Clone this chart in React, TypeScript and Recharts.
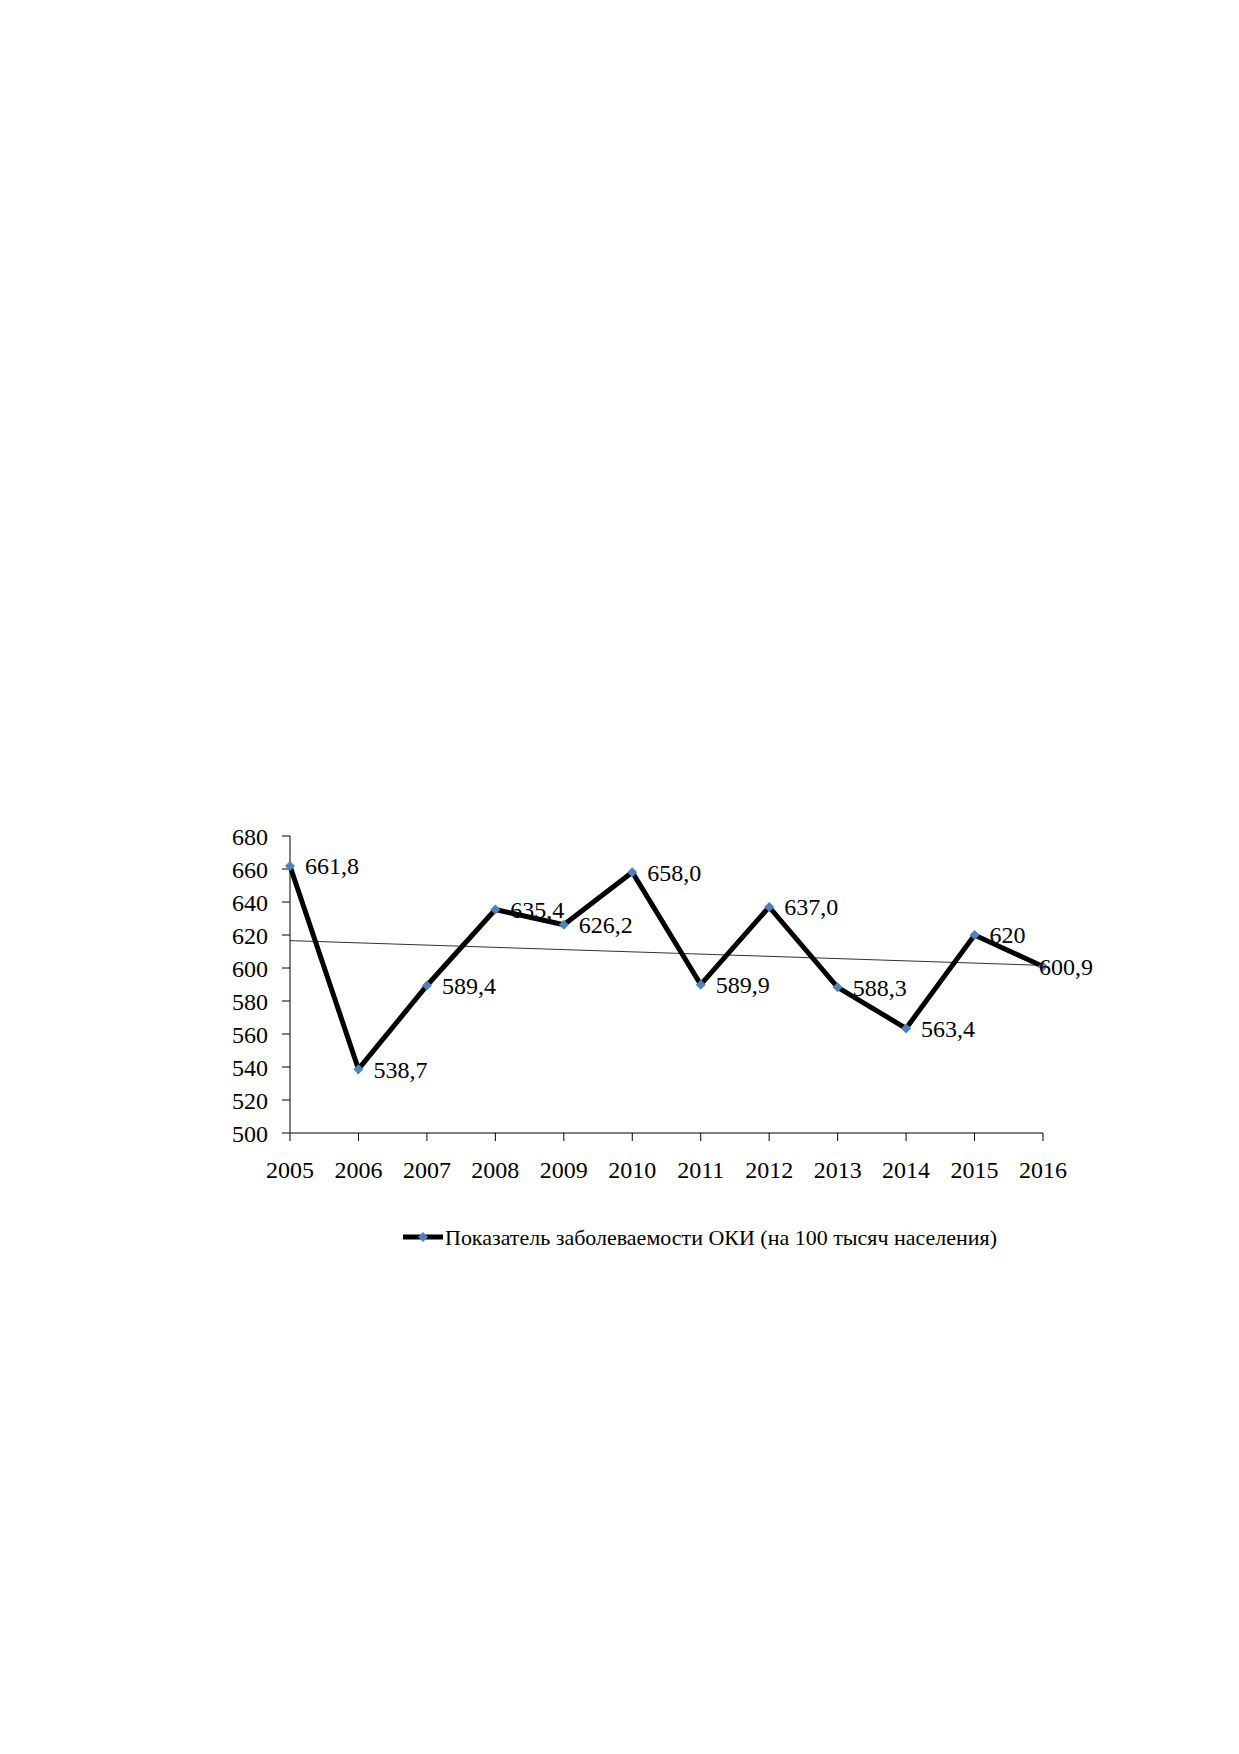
import React from 'react';
import {
  LineChart,
  Line,
  XAxis,
  YAxis,
  ReferenceLine,
  LabelList,
  Legend,
} from 'recharts';

const years = ['2005', '2006', '2007', '2008', '2009', '2010', '2011', '2012', '2013', '2014', '2015', '2016'];
const values = [661.8, 538.7, 589.4, 635.4, 626.2, 658.0, 589.9, 637.0, 588.3, 563.4, 620, 600.9];
const valueLabels = ['661,8', '538,7', '589,4', '635,4', '626,2', '658,0', '589,9', '637,0', '588,3', '563,4', '620', '600,9'];
const yTicks = [500, 520, 540, 560, 580, 600, 620, 640, 660, 680];
// linear trend at first and last year
const trendEnds = [616.6, 601.6];
const seriesName = 'Показатель заболеваемости ОКИ (на 100 тысяч населения)';

const data = years.map((year, i) => ({ year, value: values[i] }));

const FONT = '"Liberation Serif", "Times New Roman", serif';
const MARKER = '#4F81BD';

const Diamond = (props: any) => {
  const { cx, cy, index } = props;
  if (cx == null || cy == null) return null;
  const s = 5;
  return (
    <path
      key={`dot-${index}`}
      d={`M${cx},${cy - s}L${cx + s},${cy}L${cx},${cy + s}L${cx - s},${cy}Z`}
      fill={MARKER}
      stroke="none"
    />
  );
};

const ValueLabel = (props: any) => {
  const { x, y, index } = props;
  // last label sits tight against its point, as in the original
  const dx = index === years.length - 1 ? -4 : 15;
  return (
    <text x={x + dx} y={y} dy="0.35em" fontSize={24} fontFamily={FONT} fill="#000">
      {valueLabels[index]}
    </text>
  );
};

const LegendContent = () => (
  <div style={{ width: 863, height: 30, position: 'relative' }}>
    <svg width={863} height={30} style={{ position: 'absolute', left: 0, top: 0 }}>
      <line x1={223} y1={15} x2={263} y2={15} stroke="#000" strokeWidth={5} />
      <path d="M243,10L248,15L243,20L238,15Z" fill={MARKER} />
      <text
        x={265}
        y={15}
        dy="0.35em"
        fontSize={22}
        fontFamily={FONT}
        fill="#000"
        textLength={552}
        lengthAdjust="spacingAndGlyphs"
      >
        {seriesName}
      </text>
    </svg>
  </div>
);

const App: React.FC = () => {
  const tickStyle = { fill: '#000', fontSize: 24, fontFamily: FONT };
  return (
    <div style={{ position: 'absolute', left: 180, top: 800 }}>
      <LineChart
        width={923}
        height={452}
        data={data}
        margin={{ top: 36, right: 60, bottom: 0, left: 0 }}
      >
        <XAxis
          dataKey="year"
          height={89}
          axisLine={{ stroke: '#000' }}
          tickLine={{ stroke: '#000' }}
          tickSize={8}
          tickMargin={20}
          tick={tickStyle}
          interval={0}
        />
        <YAxis
          width={110}
          domain={[500, 680]}
          ticks={yTicks}
          axisLine={{ stroke: '#000' }}
          tickLine={{ stroke: '#000' }}
          tickSize={8}
          tickMargin={14}
          tick={tickStyle}
          interval={0}
        />
        <ReferenceLine
          segment={[
            { x: years[0], y: trendEnds[0] },
            { x: years[years.length - 1], y: trendEnds[1] },
          ]}
          stroke="#333"
          strokeWidth={1}
        />
        <Line
          type="linear"
          dataKey="value"
          name={seriesName}
          stroke="#000"
          strokeWidth={5}
          dot={Diamond}
          activeDot={false}
          isAnimationActive={false}
        >
          <LabelList dataKey="value" content={ValueLabel} />
        </Line>
        <Legend
          verticalAlign="bottom"
          align="left"
          height={30}
          content={LegendContent}
        />
      </LineChart>
    </div>
  );
};

export default App;
